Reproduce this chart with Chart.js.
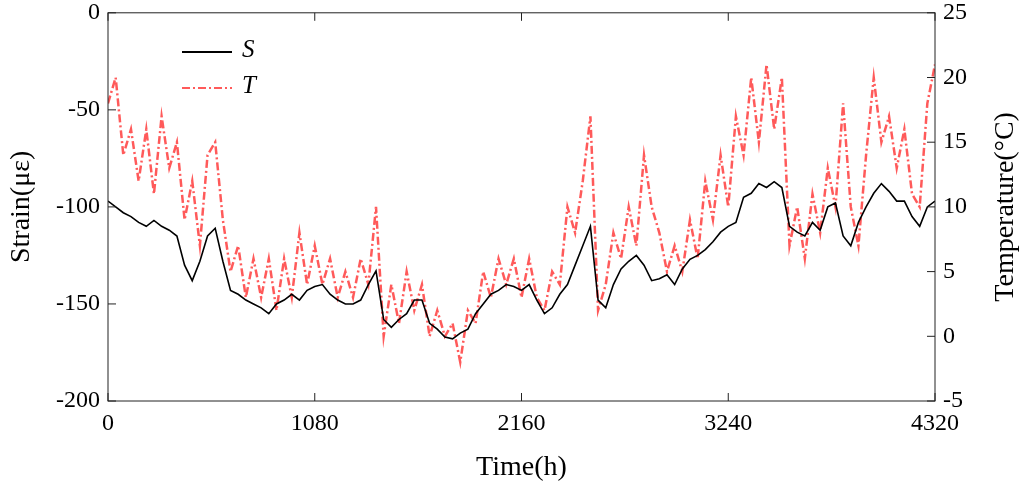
<!DOCTYPE html>
<html><head><meta charset="utf-8">
<script src="https://cdn.jsdelivr.net/npm/chart.js@4/dist/chart.umd.min.js"></script>
<style>html,body{margin:0;padding:0;background:#fff}#w{width:1025px;height:493px}</style>
</head><body><div id="w"><canvas id="c"></canvas></div>
<script>
const hours = [];
for (let h = 0; h <= 4320; h += 40) hours.push(h);
const strain = [-97,-100,-103,-105,-108,-110,-107,-110,-112,-115,-130,-138,-128,-115,-111,-128,-143,-145,-148,-150,-152,-155,-150,-148,-145,-148,-143,-141,-140,-145,-148,-150,-150,-148,-140,-133,-158,-162,-158,-155,-148,-148,-160,-163,-167,-168,-165,-163,-155,-150,-145,-143,-140,-141,-143,-140,-148,-155,-152,-145,-140,-130,-120,-110,-148,-152,-140,-132,-128,-125,-130,-138,-137,-135,-140,-132,-127,-125,-122,-118,-113,-110,-108,-95,-93,-88,-90,-87,-90,-110,-113,-115,-108,-112,-100,-98,-115,-120,-108,-100,-93,-88,-92,-97,-97,-105,-110,-100,-97];
const temperature = [18,20,14,16,12,16,11,17,13,15,9,12,7,14,15,9,5,7,3,6,3,6,2,6,3,8,4,7,4,6,3,5,3,6,4,10,0,4,1,5,2,4,0,2,0,1,-2,2,1,5,3,6,4,6,3,6,3,2,5,4,10,8,12,17,2,4,8,6,10,7,14,10,8,5,7,5,9,6,12,9,14,10,17,14,20,15,21,16,20,7,10,6,11,8,13,10,18,10,7,14,20,15,17,13,16,11,10,18,21];
const xTicks = [0,1080,2160,3240,4320];
const ff = '"Liberation Serif", "Times New Roman", serif';
const sData = hours.map((h,i)=>({x:h,y:strain[i]}));
const tData = hours.map((h,i)=>({x:h,y:temperature[i]}));
const extras = {
  id:'extras',
  afterDraw(ch){
    const c=ch.ctx, a=ch.chartArea;
    c.save();
    c.strokeStyle='#222'; c.lineWidth=1;
    c.strokeRect(a.left,a.top,a.right-a.left,a.bottom-a.top);
    const x=ch.scales.x, yl=ch.scales.y, yr=ch.scales.y2;
    c.beginPath();
    xTicks.forEach(v=>{const p=x.getPixelForValue(v);c.moveTo(p,a.bottom);c.lineTo(p,a.bottom-8);c.moveTo(p,a.top);c.lineTo(p,a.top+8);});
    for(let v=-200;v<=0;v+=50){const p=yl.getPixelForValue(v);c.moveTo(a.left,p);c.lineTo(a.left+8,p);}
    for(let v=-5;v<=25;v+=5){const p=yr.getPixelForValue(v);c.moveTo(a.right,p);c.lineTo(a.right-8,p);}
    c.stroke();
    c.lineWidth=2;
    c.strokeStyle='#000'; c.setLineDash([]);
    c.beginPath();c.moveTo(182,52);c.lineTo(232,52);c.stroke();
    c.strokeStyle='#ff5a5a'; c.setLineDash([8,3,2,3]);
    c.beginPath();c.moveTo(182,88);c.lineTo(232,88);c.stroke();
    c.setLineDash([]);
    c.fillStyle='#000'; c.font='italic 25px '+ff; c.textBaseline='middle';
    c.fillText('S',242,50); c.fillText('T',242,86);
    c.font='28px '+ff; c.textAlign='center';
    c.fillText('Time(h)',(a.left+a.right)/2,468);
    c.translate(22,(a.top+a.bottom)/2); c.rotate(-Math.PI/2); c.fillText('Strain(με)',0,0);
    c.setTransform(1,0,0,1,0,0); c.scale(ch.currentDevicePixelRatio||1,ch.currentDevicePixelRatio||1);
    c.translate(1006,(a.top+a.bottom)/2); c.rotate(-Math.PI/2); c.fillText('Temperature(°C)',0,0);
    c.restore();
  }
};
new Chart(document.getElementById('c'),{
  type:'line',
  data:{datasets:[
    {label:'S',data:sData,yAxisID:'y',borderColor:'#000',borderWidth:1.6,pointRadius:0,tension:0},
    {label:'T',data:tData,yAxisID:'y2',borderColor:'#ff5a5a',borderWidth:2.5,borderDash:[8,3,2,3],pointRadius:0,tension:0}
  ]},
  options:{
    responsive:true,maintainAspectRatio:false,animation:false,
    layout:{padding:{top:0,right:0,bottom:0,left:0}},
    plugins:{legend:{display:false},tooltip:{enabled:false}},
    scales:{
      x:{type:'linear',min:0,max:4320,afterBuildTicks:s=>{s.ticks=xTicks.map(v=>({value:v}));},
        grid:{drawOnChartArea:false,drawTicks:false},border:{display:false},
        ticks:{color:'#000',font:{family:ff,size:24},padding:8,maxRotation:0,callback:v=>String(v)},
        afterFit:s=>{s.height=92;}},
      y:{position:'left',min:-200,max:0,ticks:{stepSize:50,color:'#000',font:{family:ff,size:24,lineHeight:0.4},padding:8,callback:v=>String(v)},
        grid:{drawOnChartArea:false,drawTicks:false},border:{display:false},
        afterFit:s=>{s.width=108;}},
      y2:{position:'right',min:-5,max:25,ticks:{stepSize:5,color:'#000',font:{family:ff,size:24,lineHeight:0.4},padding:8,callback:v=>String(v)},
        grid:{drawOnChartArea:false,drawTicks:false},border:{display:false},
        afterFit:s=>{s.width=90;}}
    }
  },
  plugins:[extras]
});
</script></body></html>
